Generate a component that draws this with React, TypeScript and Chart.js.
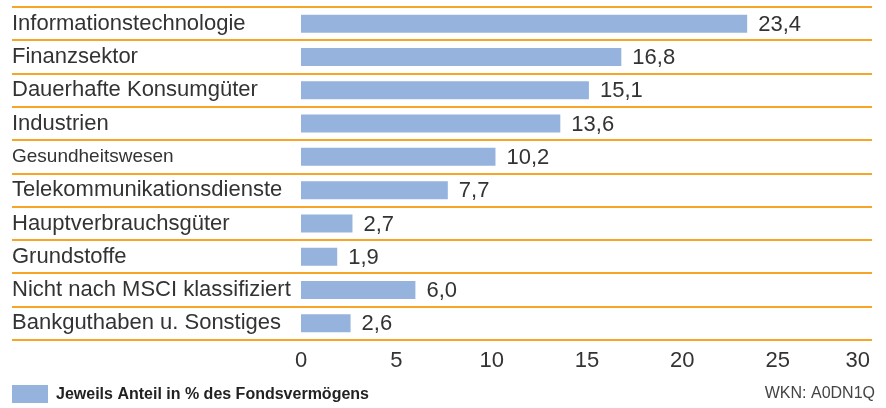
import React, { useEffect, useRef } from "react";
import { Chart, registerables } from "chart.js";

Chart.register(...registerables);

const categories = [
  "Informationstechnologie",
  "Finanzsektor",
  "Dauerhafte Konsumgüter",
  "Industrien",
  "Gesundheitswesen",
  "Telekommunikationsdienste",
  "Hauptverbrauchsgüter",
  "Grundstoffe",
  "Nicht nach MSCI klassifiziert",
  "Bankguthaben u. Sonstiges",
];
const values = [23.4, 16.8, 15.1, 13.6, 10.2, 7.7, 2.7, 1.9, 6.0, 2.6];
const xTicks = [0, 5, 10, 15, 20, 25, 30];
const legendLabel = "Jeweils Anteil in % des Fondsvermögens";
const footnote = "WKN: A0DN1Q";

const FONT = "'Liberation Sans', Arial, Helvetica, sans-serif";
const BAR_COLOR = "#95B3DD";
const LINE_COLOR = "#F7A526";
const TEXT_COLOR = "#333333";

const decoPlugin = {
  id: "deco",
  beforeDatasetsDraw(chart: any) {
    const ctx = chart.ctx;
    const y = chart.scales.y;
    const ca = chart.chartArea;
    ctx.save();
    ctx.strokeStyle = LINE_COLOR;
    ctx.lineWidth = 2;
    for (let i = 0; i <= categories.length; i++) {
      const py = Math.round(y.getPixelForValue(i - 0.5));
      ctx.beginPath();
      ctx.moveTo(12, py);
      ctx.lineTo(ca.right - 1, py);
      ctx.stroke();
    }
    ctx.restore();
  },
  afterDatasetsDraw(chart: any) {
    const ctx = chart.ctx;
    const meta = chart.getDatasetMeta(0);
    const ca = chart.chartArea;
    const xs = chart.scales.x;
    ctx.save();
    ctx.fillStyle = TEXT_COLOR;
    ctx.font = `22px ${FONT}`;
    ctx.textBaseline = "middle";
    ctx.textAlign = "left";
    meta.data.forEach((el: any, i: number) => {
      const txt = values[i].toFixed(1).replace(".", ",");
      ctx.fillText(txt, el.x + 11, el.y + 1);
    });
    // x tick labels
    xTicks.forEach((v) => {
      const px = xs.getPixelForValue(v);
      const txt = String(v);
      const w = ctx.measureText(txt).width;
      let x = px - w / 2;
      if (x + w > ca.right - 3) x = ca.right - 3 - w;
      ctx.fillText(txt, x, 361);
    });
    // legend
    ctx.fillStyle = BAR_COLOR;
    ctx.fillRect(12, 385, 36, 18);
    ctx.fillStyle = "#222222";
    ctx.font = `bold 16px ${FONT}`;
    ctx.fillText(legendLabel, 56, 395);
    ctx.fillStyle = "#444444";
    ctx.font = `16px ${FONT}`;
    ctx.textAlign = "right";
    ctx.fillText(footnote, 875, 394);
    ctx.restore();
  },
};

export default function App() {
  const ref = useRef<HTMLCanvasElement | null>(null);
  useEffect(() => {
    if (!ref.current) return;
    const chart = new Chart(ref.current, {
      type: "bar",
      data: {
        labels: categories,
        datasets: [
          {
            label: legendLabel,
            data: values,
            backgroundColor: BAR_COLOR,
            borderWidth: 0,
            categoryPercentage: 1,
            barPercentage: 0.54,
          },
        ],
      },
      options: {
        indexAxis: "y",
        animation: false,
        responsive: false,
        devicePixelRatio: 1,
        layout: { padding: { left: 12, right: 13, top: 7, bottom: 0 } },
        plugins: {
          legend: { display: false },
          tooltip: { enabled: false },
        },
        scales: {
          x: {
            min: 0,
            max: 30,
            grid: { display: false },
            border: { display: false },
            ticks: { display: false, stepSize: 5 },
            afterFit: (s: any) => {
              s.height = 68;
              s.paddingLeft = 0;
              s.paddingRight = 0;
            },
          },
          y: {
            offset: true,
            grid: { display: false },
            border: { display: false },
            ticks: {
              crossAlign: "far",
              color: TEXT_COLOR,
              font: (c: any) => ({ family: FONT, size: c.index === 4 ? 19 : 22 }),
            },
            afterFit: (s: any) => {
              s.width = 289;
              s.paddingTop = 0;
              s.paddingBottom = 0;
            },
          },
        },
      },
      plugins: [decoPlugin],
    } as any);
    return () => chart.destroy();
  }, []);
  return (
    <div style={{ position: "fixed", left: 0, top: 0, width: 886, height: 408, background: "#fff" }}>
      <canvas ref={ref} width={886} height={408} style={{ width: 886, height: 408, display: "block" }} />
    </div>
  );
}
